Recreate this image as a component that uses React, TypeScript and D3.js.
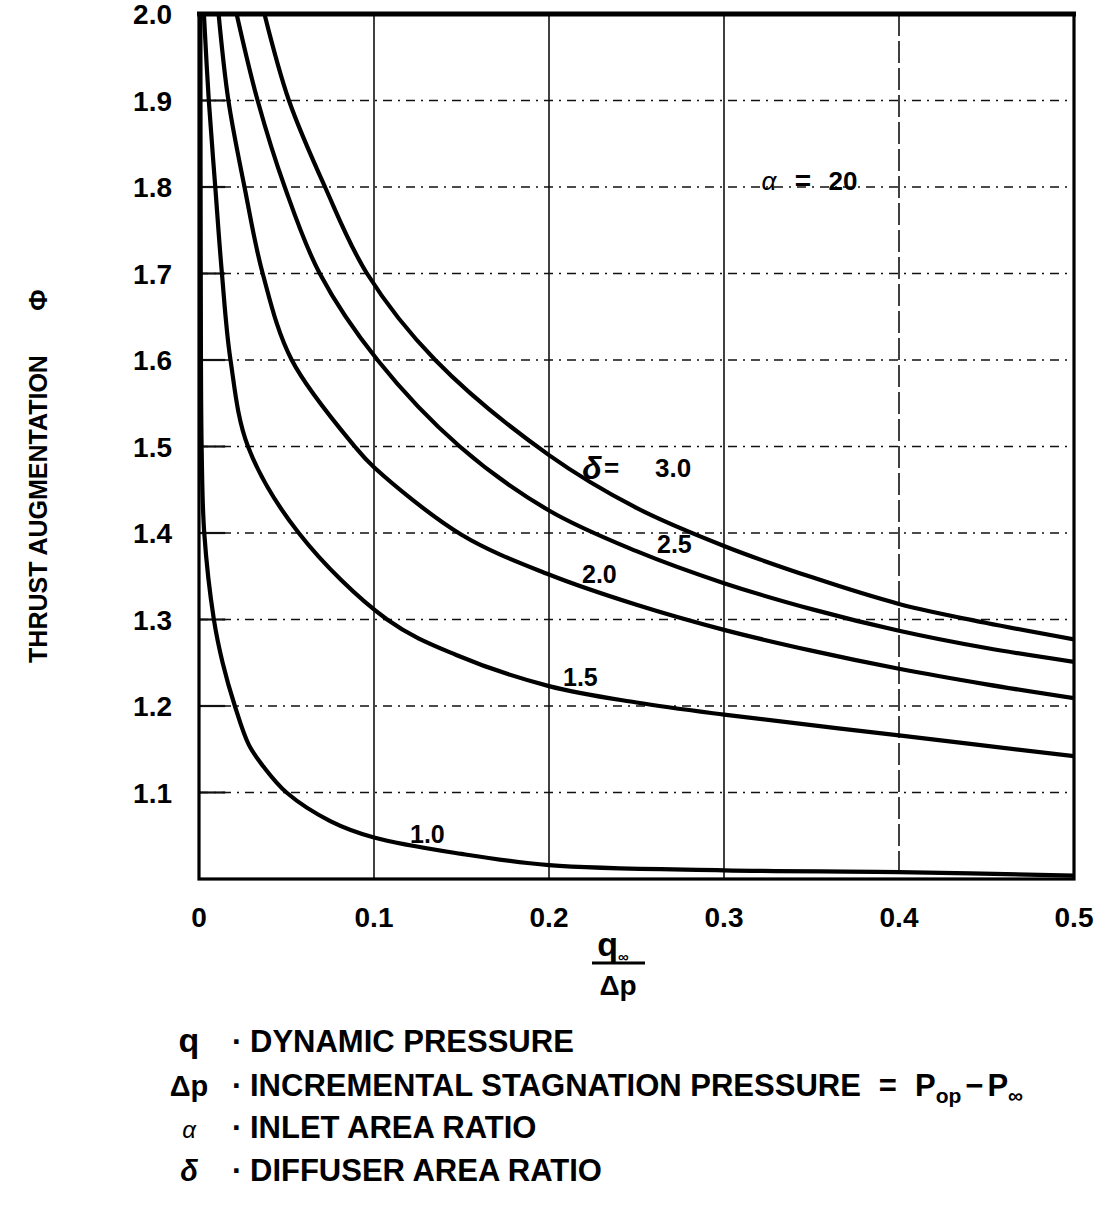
import React from "react";
import * as d3 from "d3";

const xTicks = [0, 0.1, 0.2, 0.3, 0.4, 0.5];
const xTickLabels = ["0", "0.1", "0.2", "0.3", "0.4", "0.5"];
const yTicks = [1.1, 1.2, 1.3, 1.4, 1.5, 1.6, 1.7, 1.8, 1.9, 2.0];
const yTickLabels = ["1.1", "1.2", "1.3", "1.4", "1.5", "1.6", "1.7", "1.8", "1.9", "2.0"];

// delta = 1.0
const d10x = [0.0008, 0.001, 0.0015, 0.003, 0.0085, 0.0135, 0.0205, 0.0285, 0.0368, 0.05, 0.075, 0.1, 0.15, 0.2, 0.3, 0.4, 0.5];
const d10y = [2.0, 1.7, 1.5, 1.4, 1.3, 1.25, 1.2, 1.155, 1.13, 1.1, 1.067, 1.048, 1.029, 1.016, 1.01, 1.008, 1.004];
// delta = 1.5
const d15x = [0.0028, 0.0056, 0.0093, 0.0131, 0.018, 0.028, 0.057, 0.1075, 0.147, 0.2, 0.25, 0.3, 0.4, 0.5];
const d15y = [2.0, 1.9, 1.8, 1.7, 1.6, 1.5, 1.4, 1.3, 1.259, 1.223, 1.204, 1.19, 1.166, 1.142];
// delta = 2.0
const d20x = [0.0112, 0.0168, 0.026, 0.0364, 0.053, 0.089, 0.1, 0.15, 0.2, 0.25, 0.3, 0.35, 0.4, 0.45, 0.5];
const d20y = [2.0, 1.9, 1.8, 1.7, 1.6, 1.5, 1.476, 1.398, 1.352, 1.317, 1.288, 1.264, 1.243, 1.225, 1.209];
// delta = 2.5
const d25x = [0.0215, 0.0335, 0.049, 0.069, 0.102, 0.149, 0.2, 0.25, 0.3, 0.35, 0.4, 0.45, 0.5];
const d25y = [2.0, 1.9, 1.8, 1.7, 1.6, 1.5, 1.426, 1.379, 1.342, 1.312, 1.287, 1.267, 1.251];
// delta = 3.0
const d30x = [0.0374, 0.0514, 0.072, 0.096, 0.135, 0.2, 0.25, 0.3, 0.35, 0.4, 0.45, 0.5];
const d30y = [2.0, 1.9, 1.8, 1.7, 1.6, 1.49, 1.429, 1.385, 1.349, 1.318, 1.296, 1.277];

const seriesX = [d10x, d15x, d20x, d25x, d30x];
const seriesY = [d10y, d15y, d20y, d25y, d30y];

const legendSymbols = ["q", "Δp", "α", "δ"];
const legendTexts = [
  "DYNAMIC PRESSURE",
  "INCREMENTAL STAGNATION PRESSURE",
  "INLET AREA RATIO",
  "DIFFUSER AREA RATIO",
];

const FONT = "'Liberation Sans', Arial, Helvetica, sans-serif";

export default function App() {
  const W = 1098, H = 1212;
  const x = d3.scaleLinear().domain([0, 0.5]).range([199, 1074]);
  const y = d3.scaleLinear().domain([1.0, 2.0]).range([879, 14]);
  const line = d3
    .line<[number, number]>()
    .x((d) => x(d[0]))
    .y((d) => y(d[1]))
    .curve(d3.curveCatmullRom.alpha(0.5));

  const legendY = [1052, 1096, 1138, 1181];

  return (
    <svg width={W} height={H} style={{ display: "block", position: "absolute", left: 0, top: 0, background: "#fff" }} fontFamily={FONT}>
      <defs>
        <clipPath id="plot">
          <rect x={x(0)} y={y(2.0)} width={x(0.5) - x(0)} height={y(1.0) - y(2.0)} />
        </clipPath>
      </defs>
      <rect width={W} height={H} fill="#fff" />
      {/* horizontal grid */}
      {yTicks.filter((v) => v < 2).map((v) => (
        <line key={"h" + v} x1={x(0)} x2={x(0.5)} y1={y(v)} y2={y(v)} stroke="#111" strokeWidth={1.6} strokeDasharray="9,6,2,6" />
      ))}
      {yTicks.filter((v) => v < 2).map((v) => (
        <line key={"hs" + v} x1={x(0)} x2={x(0.015)} y1={y(v)} y2={y(v)} stroke="#111" strokeWidth={2.2} />
      ))}
      {/* vertical grid */}
      {xTicks.filter((v) => v > 0 && v < 0.5).map((v) => (
        <line key={"v" + v} x1={x(v)} x2={x(v)} y1={y(2.0)} y2={y(1.0)} stroke="#111" strokeWidth={1.6} strokeDasharray={v === 0.4 ? "22,5" : undefined} />
      ))}
      {/* curves */}
      <g clipPath="url(#plot)">
        {seriesX.map((xs, i) => (
          <path key={"c" + i} d={line(xs.map((v, j) => [v, seriesY[i][j]]) as [number, number][]) || ""} fill="none" stroke="#000" strokeWidth={4.2} strokeLinejoin="round" strokeLinecap="round" />
        ))}
      </g>
      {/* frame */}
      <rect x={x(0)} y={y(2.0)} width={x(0.5) - x(0)} height={y(1.0) - y(2.0)} fill="none" stroke="#000" strokeWidth={3.2} />
      <line x1={x(0) - 2} x2={x(0.5) + 2} y1={y(2.0)} y2={y(2.0)} stroke="#000" strokeWidth={5} />
      {/* y tick labels */}
      {yTicks.map((v, i) => (
        <text key={"yl" + v} x={172} y={y(v)} dy="0.36em" textAnchor="end" fontSize={28} fontWeight="bold">{yTickLabels[i]}</text>
      ))}
      {/* x tick labels */}
      {xTicks.map((v, i) => (
        <text key={"xl" + v} x={x(v)} y={927} textAnchor="middle" fontSize={28} fontWeight="bold">{xTickLabels[i]}</text>
      ))}
      {/* y axis title */}
      <text transform="translate(47,509) rotate(-90)" textAnchor="middle" fontSize={25} fontWeight="bold">THRUST AUGMENTATION</text>
      <text transform="translate(47,300) rotate(-90)" textAnchor="middle" fontSize={26} fontWeight="bold">Φ</text>
      {/* x axis title */}
      <text x={613} y={956} textAnchor="middle" fontSize={34} fontWeight="bold">q<tspan fontSize={15} dy={6}>∞</tspan></text>
      <line x1={592} x2={645} y1={963} y2={963} stroke="#000" strokeWidth={3} />
      <text x={618} y={995} textAnchor="middle" fontSize={28} fontWeight="bold">Δp</text>
      {/* curve labels */}
      <text x={592} y={479} textAnchor="middle" fontSize={32} fontWeight="bold" fontStyle="italic">δ</text>
      <text x={604} y={477} fontSize={26} fontWeight="bold">=</text>
      <text x={655} y={477} fontSize={26} fontWeight="bold">3.0</text>
      <text x={657} y={553} fontSize={25} fontWeight="bold">2.5</text>
      <text x={582} y={583} fontSize={25} fontWeight="bold">2.0</text>
      <text x={563} y={686} fontSize={25} fontWeight="bold">1.5</text>
      <text x={410} y={843} fontSize={25} fontWeight="bold">1.0</text>
      <text x={769} y={190} textAnchor="middle" fontSize={26} fontStyle="italic">α</text>
      <text x={803} y={190} textAnchor="middle" fontSize={28} fontWeight="bold">=</text>
      <text x={843} y={190} textAnchor="middle" fontSize={26} fontWeight="bold">20</text>
      {/* legend */}
      {legendSymbols.map((s, i) => (
        <text key={"ls" + i} x={189} y={legendY[i]} textAnchor="middle" fontSize={i === 0 ? 34 : i === 2 ? 24 : 29} fontWeight={i === 2 ? "normal" : "bold"} fontStyle={i === 2 || i === 3 ? "italic" : "normal"}>{s}</text>
      ))}
      {legendTexts.map((t, i) => (
        <g key={"lt" + i}>
          <text x={232} y={legendY[i]} fontSize={31} fontWeight="bold">·</text>
          <text x={250} y={legendY[i]} fontSize={31} fontWeight="bold">
            {t}
            {i === 1 ? (
              <>
                <tspan dx={18}>=</tspan>
                <tspan dx={18}>P</tspan>
                <tspan fontSize={21} dy={7}>op</tspan>
                <tspan dy={-7} dx={4}>−</tspan>
                <tspan dx={4}>P</tspan>
                <tspan fontSize={21} dy={7}>∞</tspan>
              </>
            ) : null}
          </text>
        </g>
      ))}
    </svg>
  );
}
